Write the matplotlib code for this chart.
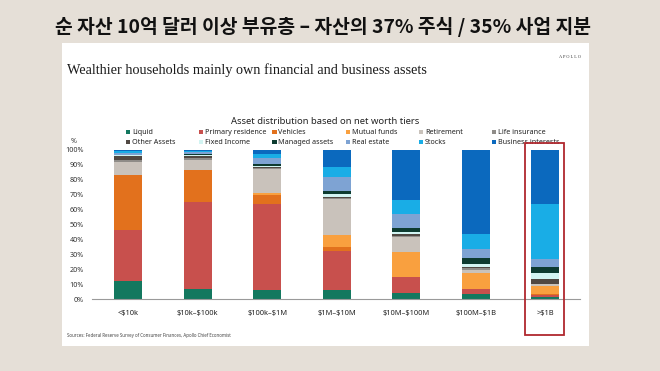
import matplotlib
matplotlib.use("Agg")
import matplotlib.pyplot as plt
from matplotlib.patches import Rectangle
import numpy as np

plt.rcParams['font.family'] = ['Noto Sans', 'DejaVu Sans']
plt.rcParams['text.parse_math'] = False

tiers = ["<$10k", "$10k–$100k", "$100k–$1M", "$1M–$10M", "$10M–$100M", "$100M–$1B", ">$1B"]
categories = ["Liquid", "Primary residence", "Vehicles", "Mutual funds", "Retirement",
              "Life insurance", "Other Assets", "Fixed Income", "Managed assets",
              "Real estate", "Stocks", "Business interests"]
liquid        = [12.0, 6.7, 6.3, 5.8, 3.8, 3.1, 1.6]
primary_res   = [34.5, 58.2, 57.2, 26.4, 10.7, 3.4, 1.3]
vehicles      = [36.5, 21.5, 6.3, 2.9, 0.5, 0.3, 0.5]
mutual_funds  = [0.0, 0.0, 1.2, 7.9, 16.8, 10.9, 5.1]
retirement    = [9.0, 6.9, 16.2, 24.1, 9.6, 2.0, 1.3]
life_ins      = [1.5, 1.2, 0.8, 0.7, 1.1, 0.9, 0.5]
other_assets  = [2.5, 1.5, 0.7, 0.9, 0.9, 0.7, 3.3]
fixed_income  = [0.5, 0.5, 0.6, 1.5, 1.3, 2.4, 3.6]
managed       = [0.3, 0.5, 1.5, 2.3, 2.7, 3.6, 4.5]
real_estate   = [1.5, 1.5, 4.0, 9.2, 9.6, 6.0, 5.1]
stocks        = [1.0, 1.0, 2.5, 7.1, 9.4, 10.1, 37.2]
business      = [0.7, 0.5, 2.7, 11.2, 33.6, 56.6, 36.0]
series = [liquid, primary_res, vehicles, mutual_funds, retirement, life_ins,
          other_assets, fixed_income, managed, real_estate, stocks, business]
colors = ["#13785F", "#C8504D", "#E2711D", "#F9A03F", "#C9C2BB", "#8F8C88",
          "#514842", "#D2F4F2", "#0D3B30", "#7EA3D3", "#19ADE6", "#0B69BE"]
yticks = list(range(0, 101, 10))

W, H = 660, 371
fig = plt.figure(figsize=(W / 100, H / 100), dpi=100)
fig.patch.set_facecolor("#E5DFD7")

def fx(px):
    return px / W

def fy(py):
    return 1 - py / H

# white card
fig.patches.append(Rectangle((fx(62), fy(346)), fx(589) - fx(62), fy(43) - fy(346),
                             transform=fig.transFigure, facecolor="white",
                             edgecolor="none", zorder=-10))

fig.text(fx(323), fy(27), "순 자산 10억 달러 이상 부유층 – 자산의 37% 주식 / 35% 사업 지분",
         ha="center", va="center", fontsize=13.9, fontweight="bold", color="#111111",
         family=["Noto Sans CJK KR", "DejaVu Sans"])
fig.text(fx(67), fy(70), "Wealthier households mainly own financial and business assets",
         ha="left", va="center", fontsize=10.3, color="#1a1a1a", family="Liberation Serif")
fig.text(fx(581), fy(57), "A P O L L O", ha="right", va="center", fontsize=3.2,
         color="#333333", family="Liberation Serif")
fig.text(fx(325), fy(122), "Asset distribution based on net worth tiers",
         ha="center", va="center", fontsize=6.8, color="#222222")
fig.text(fx(74), fy(141), "%", ha="center", va="center", fontsize=5.2, color="#333333")
fig.text(fx(67), fy(336), "Sources: Federal Reserve Survey of Consumer Finances, Apollo Chief Economist",
         ha="left", va="center", fontsize=3.2, color="#444444")

# manual legend
leg_x0, leg_dx = 126, 73.2
leg_rows = [132, 142]
for i, (name, c) in enumerate(zip(categories, colors)):
    row, col = divmod(i, 6)
    xp = leg_x0 + col * leg_dx
    yp = leg_rows[row]
    fig.patches.append(Rectangle((fx(xp), fy(yp + 2.2)), fx(4.2), fy(0) - fy(4.2),
                                 transform=fig.transFigure, facecolor=c, edgecolor="none"))
    fig.text(fx(xp + 6), fy(yp), name, ha="left", va="center", fontsize=5.2, color="#222222")

ax = fig.add_axes([fx(92), fy(299), fx(580) - fx(92), fy(150) - fy(299)])
ax.set_facecolor("none")
ax.set_zorder(2)
x = np.arange(len(tiers))
bottom = np.zeros(len(tiers))
for vals, c, name in zip(series, colors, categories):
    v = np.array(vals)
    ax.bar(x, v, bottom=bottom, width=0.4, color=c, label=name, edgecolor="none")
    bottom += v
ax.set_xlim(-0.52, 6.5)
ax.set_ylim(0, 100)
ax.set_yticks(yticks)
ax.set_yticklabels([f"{t}%" for t in yticks], fontsize=5.2, color="#333333")
ax.set_xticks(x)
ax.set_xticklabels(tiers, fontsize=5.4, color="#222222")
ax.tick_params(axis="both", length=0)
ax.tick_params(axis="y", pad=6)
ax.tick_params(axis="x", pad=8)
for s in ["top", "right", "left"]:
    ax.spines[s].set_visible(False)
ax.spines["bottom"].set_color("#9a9a9a")
ax.spines["bottom"].set_linewidth(0.8)

# highlight box around >$1B
fig.patches.append(Rectangle((fx(525), fy(335)), fx(564) - fx(525), fy(143) - fy(335),
                             transform=fig.transFigure, facecolor="none",
                             edgecolor="#B0282E", linewidth=1.3, zorder=5))

fig.savefig("out.png", dpi=100, facecolor=fig.get_facecolor())
